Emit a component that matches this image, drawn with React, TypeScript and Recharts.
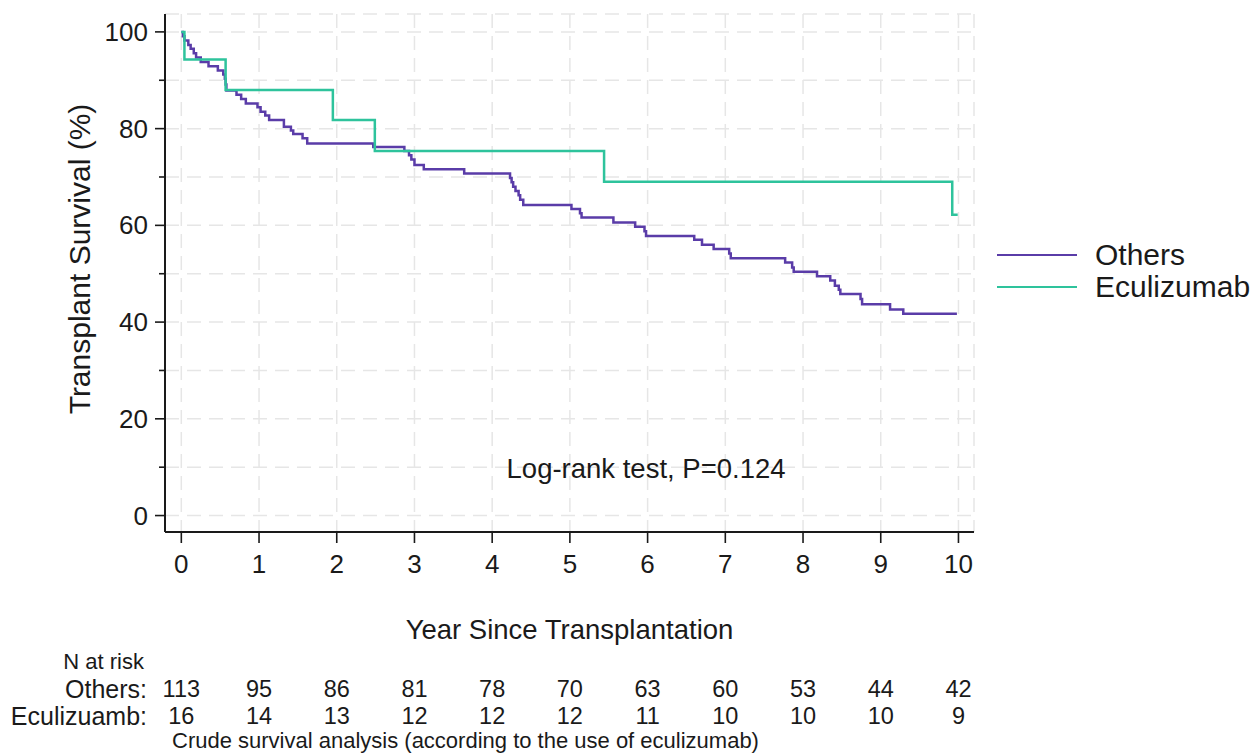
import React from "react";
import {
  LineChart,
  Line,
  XAxis,
  YAxis,
  CartesianGrid,
} from "recharts";

// Kaplan-Meier step points: t = years, s = survival %
const othersCurve = [
  { t: 0, s: 100 },
  { t: 0.02, s: 99.1 },
  { t: 0.04, s: 98.2 },
  { t: 0.09, s: 97.3 },
  { t: 0.12, s: 96.5 },
  { t: 0.16, s: 95.6 },
  { t: 0.19, s: 94.7 },
  { t: 0.25, s: 93.8 },
  { t: 0.35, s: 92.9 },
  { t: 0.47, s: 92.0 },
  { t: 0.54, s: 91.2 },
  { t: 0.56, s: 90.3 },
  { t: 0.57, s: 89.1 },
  { t: 0.58, s: 87.9 },
  { t: 0.71, s: 87.0 },
  { t: 0.77, s: 86.1 },
  { t: 0.83, s: 85.2 },
  { t: 0.98, s: 84.4 },
  { t: 1.02, s: 83.5 },
  { t: 1.08, s: 82.7 },
  { t: 1.13, s: 81.8 },
  { t: 1.32, s: 80.4 },
  { t: 1.41, s: 79.6 },
  { t: 1.44, s: 78.9 },
  { t: 1.56, s: 78.0 },
  { t: 1.62, s: 76.9 },
  { t: 2.47, s: 76.2 },
  { t: 2.87, s: 75.4 },
  { t: 2.93, s: 74.5 },
  { t: 2.96, s: 73.6 },
  { t: 3.0, s: 72.5 },
  { t: 3.12, s: 71.6 },
  { t: 3.64, s: 70.7 },
  { t: 4.23, s: 69.8 },
  { t: 4.25, s: 68.9 },
  { t: 4.27, s: 68.0 },
  { t: 4.3, s: 67.1 },
  { t: 4.34, s: 66.2 },
  { t: 4.36, s: 65.3 },
  { t: 4.4, s: 64.2 },
  { t: 5.02, s: 63.4 },
  { t: 5.13, s: 62.5 },
  { t: 5.15, s: 61.6 },
  { t: 5.56, s: 60.6 },
  { t: 5.84, s: 59.7 },
  { t: 5.96, s: 58.8 },
  { t: 5.98, s: 57.8 },
  { t: 6.6, s: 57.0 },
  { t: 6.7, s: 56.0 },
  { t: 6.85, s: 55.1 },
  { t: 7.05, s: 54.2 },
  { t: 7.07, s: 53.2 },
  { t: 7.77, s: 52.3 },
  { t: 7.86, s: 51.3 },
  { t: 7.88, s: 50.4 },
  { t: 8.18, s: 49.5 },
  { t: 8.35, s: 48.6 },
  { t: 8.41, s: 47.5 },
  { t: 8.46, s: 46.7 },
  { t: 8.48, s: 45.8 },
  { t: 8.74, s: 44.8 },
  { t: 8.76, s: 43.7 },
  { t: 9.12, s: 42.6 },
  { t: 9.29, s: 41.7 },
  { t: 9.98, s: 41.7 },
];

const eculizumabCurve = [
  { t: 0, s: 100 },
  { t: 0.04, s: 94.3 },
  { t: 0.57, s: 88.0 },
  { t: 1.95, s: 81.8 },
  { t: 2.49, s: 75.4 },
  { t: 5.44, s: 69.0 },
  { t: 9.92, s: 62.2 },
  { t: 9.99, s: 62.2 },
];

const yearTicks = [0, 1, 2, 3, 4, 5, 6, 7, 8, 9, 10];
const survivalTicks = [0, 10, 20, 30, 40, 50, 60, 70, 80, 90, 100];
const othersAtRisk = [113, 95, 86, 81, 78, 70, 63, 60, 53, 44, 42];
const eculizumabAtRisk = [16, 14, 13, 12, 12, 12, 11, 10, 10, 10, 9];

const PURPLE = "#5a3ca8";
const GREEN = "#2ec39c";
const INK = "#1a1a1a";
const FONT = "'Liberation Sans', Arial, Helvetica, sans-serif";

const W = 1253;
const H = 753;
const plot = { left: 165, right: 974, top: 14, bottom: 532 };
const xDomain: [number, number] = [-0.21, 10.2];
const yDomain: [number, number] = [-3.4, 103.7];
const yAxisW = 60;
const xAxisH = 50;

// same mapping as the x axis, used to line the risk table up under the ticks
const xPix = (t: number) =>
  plot.left + ((t - xDomain[0]) / (xDomain[1] - xDomain[0])) * (plot.right - plot.left);

const YTick = (props: any) => {
  const { x, y, payload } = props;
  const axisX = x + 10;
  const major = payload.value % 20 === 0;
  return (
    <g>
      <line x1={axisX - (major ? 10 : 6)} x2={axisX} y1={y} y2={y} stroke={INK} strokeWidth={1.6} />
      {major && (
        <text x={axisX - 17} y={y} textAnchor="end" dominantBaseline="central" fontSize={26} fill={INK} fontFamily={FONT}>
          {payload.value}
        </text>
      )}
    </g>
  );
};

const legendItems = [
  { name: "Others", color: PURPLE },
  { name: "Eculizumab", color: GREEN },
];

export default function App() {
  const txt: React.CSSProperties = { position: "absolute", fontFamily: FONT, color: INK, whiteSpace: "nowrap" };
  return (
    <div style={{ position: "absolute", left: 0, top: 0, width: W, height: H, background: "#fff", overflow: "hidden" }}>
      <LineChart
        width={W}
        height={H}
        margin={{ top: plot.top, right: W - plot.right, bottom: H - plot.bottom - xAxisH, left: plot.left - yAxisW }}
      >
        <CartesianGrid stroke="#e6e6e6" strokeWidth={1.5} strokeDasharray="14 8" />
        <XAxis
          type="number"
          dataKey="t"
          domain={xDomain}
          ticks={yearTicks}
          allowDataOverflow
          height={xAxisH}
          tickSize={11}
          tickMargin={12}
          axisLine={{ stroke: INK, strokeWidth: 2 }}
          tickLine={{ stroke: INK, strokeWidth: 1.6 }}
          tick={{ fill: INK, fontSize: 26, fontFamily: FONT }}
        />
        <YAxis
          type="number"
          domain={yDomain}
          ticks={survivalTicks}
          allowDataOverflow
          width={yAxisW}
          tickSize={10}
          tickMargin={0}
          tickLine={false}
          axisLine={{ stroke: INK, strokeWidth: 2 }}
          tick={<YTick />}
        />
        <Line
          data={othersCurve}
          dataKey="s"
          name="Others"
          type="stepAfter"
          stroke={PURPLE}
          strokeWidth={2.5}
          dot={false}
          isAnimationActive={false}
        />
        <Line
          data={eculizumabCurve}
          dataKey="s"
          name="Eculizumab"
          type="stepAfter"
          stroke={GREEN}
          strokeWidth={2.5}
          dot={false}
          isAnimationActive={false}
        />
      </LineChart>

      <div style={{ position: "absolute", left: 997, top: 239, fontFamily: FONT }}>
        {legendItems.map((it) => (
          <div key={it.name} style={{ display: "flex", alignItems: "center", height: 32 }}>
            <span style={{ width: 80, height: 0, borderTop: `2.5px solid ${it.color}`, marginRight: 18 }} />
            <span style={{ fontSize: 30, color: INK, lineHeight: "32px" }}>{it.name}</span>
          </div>
        ))}
      </div>

      <div style={{ ...txt, left: xPix(5.98), top: 469, transform: "translate(-50%, -50%)", fontSize: 27.5 }}>
        Log-rank test, P=0.124
      </div>

      <div style={{ ...txt, left: (plot.left + plot.right) / 2, top: 630, transform: "translate(-50%, -50%)", fontSize: 27.5 }}>
        Year Since Transplantation
      </div>

      <div style={{ ...txt, left: 80, top: 259, transform: "translate(-50%, -50%) rotate(-90deg)", fontSize: 30 }}>
        Transplant Survival (%)
      </div>

      <div style={{ ...txt, right: W - 144, top: 662, transform: "translateY(-50%)", fontSize: 22 }}>N at risk</div>
      <div style={{ ...txt, right: W - 147, top: 689, transform: "translateY(-50%)", fontSize: 25 }}>Others:</div>
      <div style={{ ...txt, right: W - 147, top: 716, transform: "translateY(-50%)", fontSize: 25 }}>Eculizuamb:</div>
      {yearTicks.map((t, i) => (
        <React.Fragment key={t}>
          <div style={{ ...txt, left: xPix(t), top: 689, transform: "translate(-50%, -50%)", fontSize: 23.5 }}>
            {othersAtRisk[i]}
          </div>
          <div style={{ ...txt, left: xPix(t), top: 716, transform: "translate(-50%, -50%)", fontSize: 23.5 }}>
            {eculizumabAtRisk[i]}
          </div>
        </React.Fragment>
      ))}
      <div style={{ ...txt, left: 172, top: 741, transform: "translateY(-50%)", fontSize: 22 }}>
        Crude survival analysis (according to the use of eculizumab)
      </div>
    </div>
  );
}
